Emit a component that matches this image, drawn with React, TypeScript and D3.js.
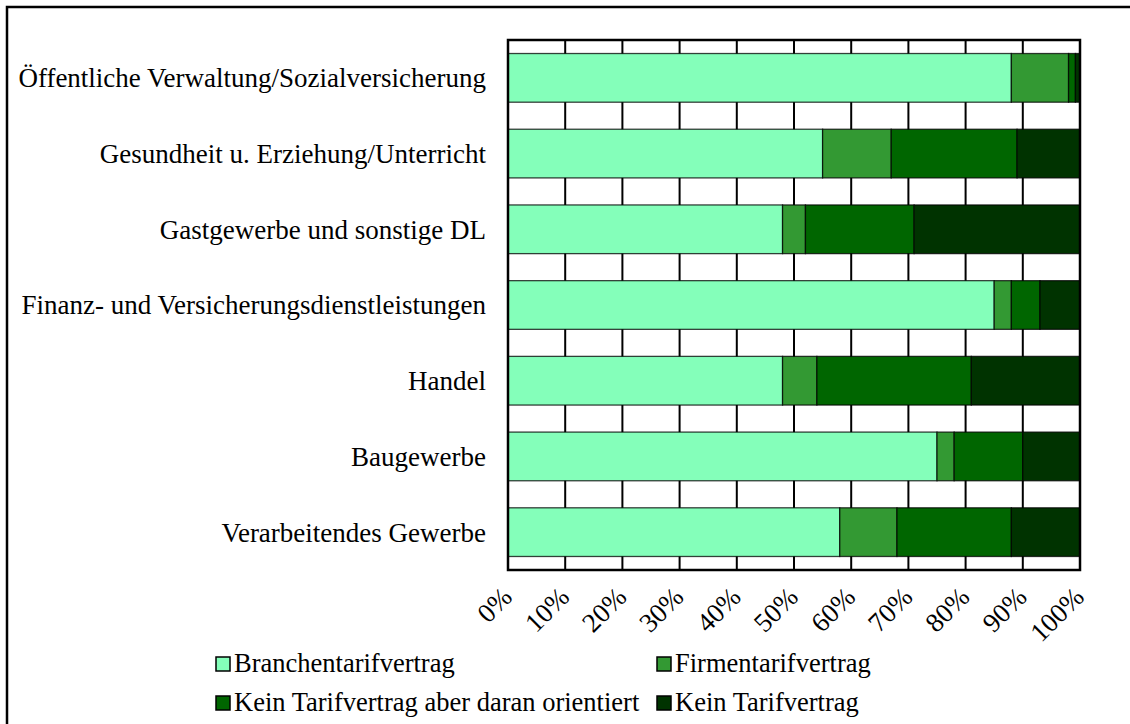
import React from "react";
import * as d3 from "d3";

const categories = [
  "Öffentliche Verwaltung/Sozialversicherung",
  "Gesundheit u. Erziehung/Unterricht",
  "Gastgewerbe und sonstige DL",
  "Finanz- und Versicherungsdienstleistungen",
  "Handel",
  "Baugewerbe",
  "Verarbeitendes Gewerbe",
];

const seriesNames = [
  "Branchentarifvertrag",
  "Firmentarifvertrag",
  "Kein Tarifvertrag aber daran orientiert",
  "Kein Tarifvertrag",
];

const branchen = [88, 55, 48, 85, 48, 75, 58];
const firmen = [10, 12, 4, 3, 6, 3, 10];
const orientiert = [1.2, 22, 19, 5, 27, 12, 20];
const kein = [0.8, 11, 29, 7, 19, 10, 12];

const colors = ["#84ffba", "#339933", "#006600", "#003300"];
const ticks = [0, 10, 20, 30, 40, 50, 60, 70, 80, 90, 100];

const FONT = "'Liberation Serif', 'Times New Roman', Times, serif";

export default function App() {
  const W = 1130;
  const H = 724;
  const left = 508;
  const right = 1080;
  const top = 40;
  const bottom = 570;

  const x = d3.scaleLinear().domain([0, 100]).range([left, right]);
  const y = d3
    .scaleBand<string>()
    .domain(categories)
    .range([top, bottom])
    .paddingInner(0.357)
    .paddingOuter(0.1785);

  const rows = categories.map((c, i) => ({
    cat: c,
    vals: [branchen[i], firmen[i], orientiert[i], kein[i]],
  }));
  const stack = d3
    .stack<any>()
    .keys(["0", "1", "2", "3"])
    .value((d, k) => d.vals[+k]);
  const stacked = stack(rows);

  const legendItems = [
    { name: seriesNames[0], color: colors[0], x: 216, y: 672 },
    { name: seriesNames[1], color: colors[1], x: 657, y: 672 },
    { name: seriesNames[2], color: colors[2], x: 216, y: 711 },
    { name: seriesNames[3], color: colors[3], x: 657, y: 711 },
  ];

  const textStyle = { fontFamily: FONT };

  return (
    <svg
      width={W}
      height={H}
      style={{ position: "absolute", left: 0, top: 0, background: "#fff", fontFamily: FONT }}
    >
      <rect x={0} y={0} width={W} height={H} fill="#fff" />
      <rect x={7} y={7} width={W + 20} height={H + 20} fill="none" stroke="#000" strokeWidth={2.5} />

      {/* gridlines */}
      {ticks.slice(1, -1).map((t) => (
        <line key={t} x1={x(t)} x2={x(t)} y1={top} y2={bottom} stroke="#000" strokeWidth={2} />
      ))}

      {/* bars */}
      {stacked.map((layer, si) => (
        <g key={si} fill={colors[si]}>
          {layer.map((d, i) => (
            <rect
              key={i}
              x={x(d[0])}
              y={y(categories[i])}
              width={Math.max(0, x(d[1]) - x(d[0]))}
              height={y.bandwidth()}
              stroke="#000"
              strokeOpacity={0.75}
              strokeWidth={1.3}
            />
          ))}
        </g>
      ))}

      {/* plot border */}
      <rect x={left} y={top} width={right - left} height={bottom - top} fill="none" stroke="#000" strokeWidth={2.5} />

      {/* category labels */}
      {categories.map((c) => (
        <text
          key={c}
          x={486}
          y={(y(c) as number) + y.bandwidth() / 2}
          dy="0.35em"
          textAnchor="end"
          fontSize={27}
          fill="#000"
          style={textStyle}
        >
          {c}
        </text>
      ))}

      {/* x tick labels */}
      {ticks.map((t) => (
        <text
          key={t}
          transform={`translate(${x(t) - 1},${592}) rotate(-45)`}
          dy="0.35em"
          textAnchor="end"
          fontSize={27}
          fill="#000"
          style={textStyle}
        >
          {t + "%"}
        </text>
      ))}

      {/* legend */}
      {legendItems.map((l) => (
        <g key={l.name}>
          <rect x={l.x} y={l.y - 15} width={14} height={14} fill={l.color} stroke="#000" strokeWidth={1.5} />
          <text x={l.x + 18} y={l.y} fontSize={26.5} fill="#000" style={textStyle}>
            {l.name}
          </text>
        </g>
      ))}
    </svg>
  );
}
